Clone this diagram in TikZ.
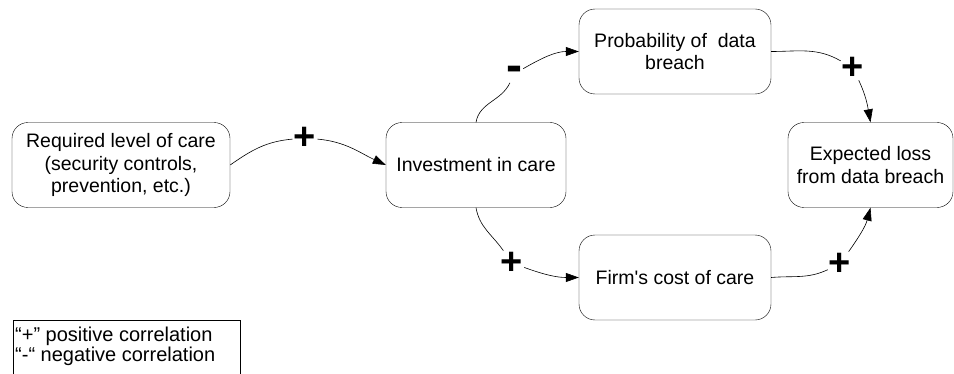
\documentclass[tikz,border=0pt]{standalone}
\usepackage{fontspec}
\newfontfamily\arialfont{Liberation Sans}
\usetikzlibrary{arrows.meta}
\tikzset{
  factor/.style={draw, rounded corners=16pt, minimum height=85pt, align=center,
    inner sep=2pt, font=\arialfont\fontsize{19.5}{22.5}\selectfont},
  sign/.style={inner sep=1pt, font=\arialfont\bfseries\fontsize{38}{38}\selectfont},
  link/.style={line width=0.6pt, -{Triangle[length=13pt,width=9pt]}},
  bare/.style={line width=0.6pt}
}
\begin{document}
\begin{tikzpicture}[x=1pt,y=1pt]
    \useasboundingbox (0,0) rectangle (954,373);
    % boxes
    \node[factor, minimum width=218pt] (care) at (121,208) {Required level of care\\(security controls,\\prevention, etc.)};
    \node[factor, minimum width=180pt] (invest) at (476,208) {Investment in care};
    \node[factor, minimum width=192pt] (prob) at (675,321.5) {Probability of\ \ data\\breach};
    \node[factor, minimum width=165pt] (loss) at (870.5,208) {Expected loss\\from data breach};
    \node[factor, minimum width=192pt] (cost) at (675,95.5) {Firm's cost of care};
    % signs
    \node[sign] (s1) at (305,235) {+};
    \node[sign, font=\arialfont\bfseries\fontsize{48}{48}\selectfont] (s2) at (514,299) {-};
    \node[sign] (s3) at (853,305) {+};
    \node[sign] (s4) at (512,110) {+};
    \node[sign] (s5) at (840,109) {+};
    % links
    \draw[bare] (care.east) to[out=35,in=185] (s1);
    \draw[link] (s1) to[out=-5,in=155] (invest.west);
    \draw[bare] (invest.north) to[out=80,in=-115] (s2);
    \draw[link] (s2) to[out=30,in=180] (prob.west);
    \draw[bare] (prob.east) to[out=0,in=150] (s3);
    \draw[link] (s3) to[out=-65,in=100] (loss.north);
    \draw[bare] (invest.south) to[out=-80,in=125] (s4);
    \draw[link] (s4) to[out=-20,in=180] (cost.west);
    \draw[bare] (cost.east) to[out=5,in=-155] (s5);
    \draw[link] (s5) to[out=55,in=-105] (loss.south);
    % legend
    \node[draw, anchor=north west, minimum width=227pt, minimum height=70pt,
      inner sep=0pt] (key) at (13,53) {};
    \node[anchor=north west, align=left, inner sep=0pt, font=\arialfont\fontsize{20}{20}\selectfont]
      (keytext) at (15,46) {“+” positive correlation\\“-“ negative correlation};
\end{tikzpicture}
\end{document}
